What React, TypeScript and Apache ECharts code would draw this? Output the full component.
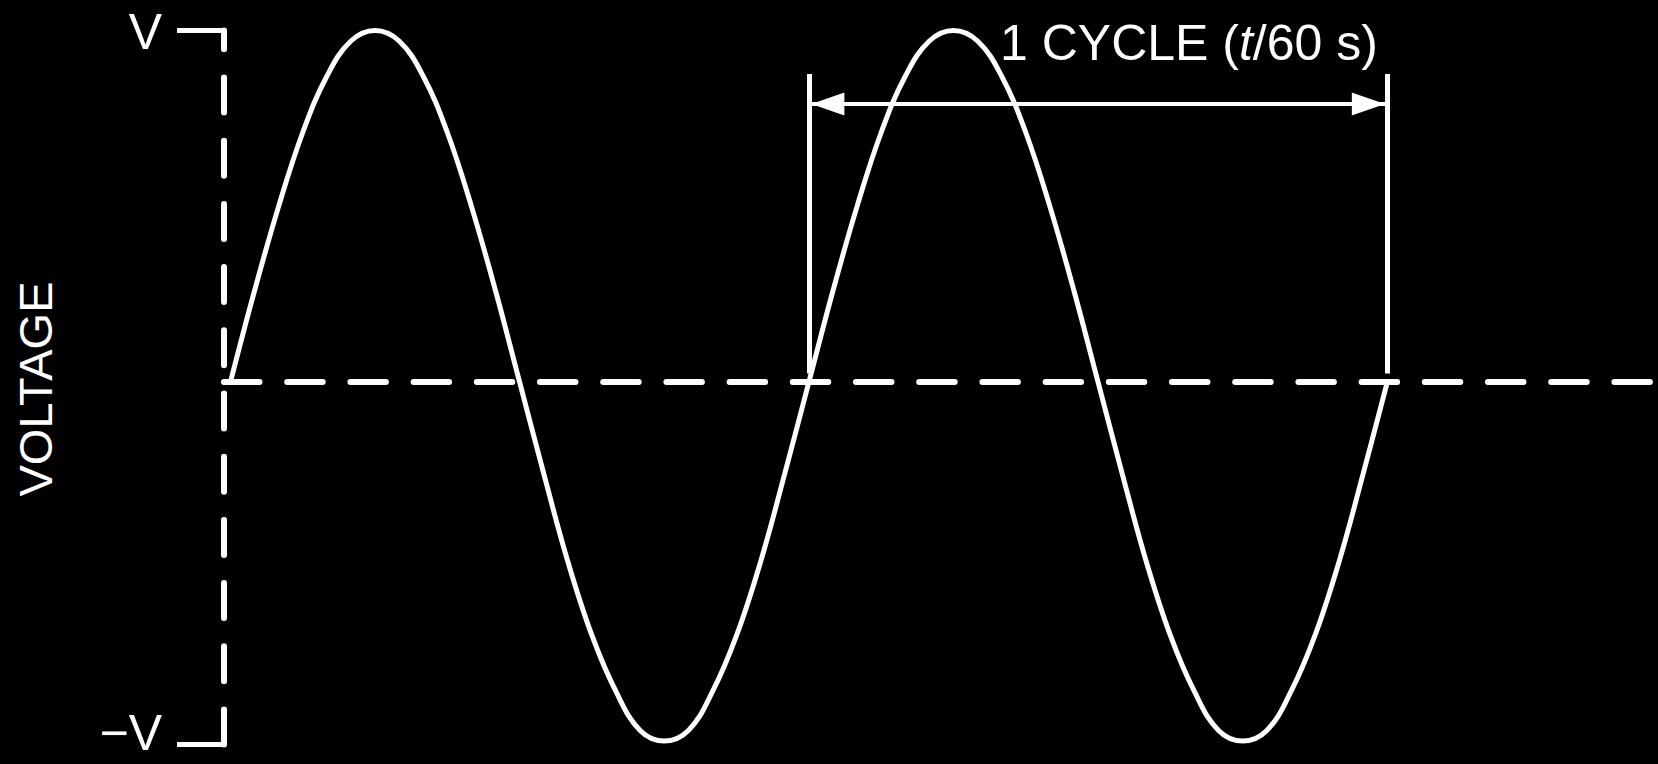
import React, { useEffect, useRef } from 'react';
import * as echarts from 'echarts';

// Phase (degrees) along the time axis, and the voltage (V = 1)
const phaseDeg = [
  0, 15, 30, 45, 60, 75, 90, 105, 120, 135, 150, 165, 180, 195, 210, 225, 240, 255, 270, 285, 300, 315, 330, 345, 360,
  375, 390, 405, 420, 435, 450, 465, 480, 495, 510, 525, 540, 555, 570, 585, 600, 615, 630, 645, 660, 675, 690, 705, 720,
];
const voltage = [
  0, 0.26, 0.5, 0.71, 0.87, 0.97, 1.0, 0.97, 0.87, 0.71, 0.5, 0.26, 0, -0.26, -0.51, -0.72, -0.88, -0.99, -1.02, -0.99, -0.88, -0.72, -0.51, -0.26, 0,
  0.26, 0.5, 0.71, 0.87, 0.97, 1.0, 0.97, 0.87, 0.71, 0.5, 0.26, 0, -0.26, -0.51, -0.72, -0.88, -0.99, -1.02, -0.99, -0.88, -0.72, -0.51, -0.26, 0,
];

// Axis extents and tick labels
const xMin = -4;
const xMax = 883.5;
const yMin = -1.03;
const yMax = 1;
const yTickValues = [-1.03, 1];
const yTickLabels = ['−V', 'V'];

// Cycle annotation (data units)
const cycleBounds = [360, 720];
const cycleLineFrom = 0.025;
const cycleLineTo = 0.876;
const arrowLevel = 0.791;

const axisTitle = 'VOLTAGE';
const cycleTitle = '1 CYCLE ({i|t}/60 s)';

const FONT = '"Liberation Sans", Arial, Helvetica, sans-serif';
const WHITE = '#ffffff';

export default function App() {
  const ref = useRef<HTMLDivElement>(null);

  useEffect(() => {
    document.body.style.margin = '0';
    document.body.style.background = '#000';
    const chart = echarts.init(ref.current!, null, { renderer: 'svg' });

    const option: any = {
      animation: false,
      backgroundColor: '#000000',
      grid: { left: 224, right: 8, top: 30.5, bottom: 19.5, containLabel: false },
      xAxis: {
        type: 'value',
        min: xMin,
        max: xMax,
        axisLine: {
          show: true,
          onZero: true,
          lineStyle: { color: WHITE, width: 6, type: [35.5, 27.7] },
        },
        axisTick: { show: false },
        axisLabel: { show: false },
        splitLine: { show: false },
      },
      yAxis: {
        type: 'value',
        min: yMin,
        max: yMax,
        axisLine: {
          show: true,
          onZero: false,
          lineStyle: { color: WHITE, width: 6, type: [35, 28.2] },
        },
        axisTick: {
          show: true,
          inside: false,
          length: 47,
          customValues: yTickValues,
          lineStyle: { color: WHITE, width: 5 },
        },
        axisLabel: {
          show: true,
          customValues: yTickValues,
          margin: 62,
          formatter: (v: number) => {
            const i = yTickValues.indexOf(v);
            const label = i >= 0 ? yTickLabels[i] : '';
            return v > 0 ? '{t|' + label + '}' : '{b|' + label + '}';
          },
          rich: {
            t: { color: WHITE, fontSize: 50, fontFamily: FONT, padding: [3, 0, 0, 0] },
            b: { color: WHITE, fontSize: 50, fontFamily: FONT, padding: [0, 0, 24, 0] },
          },
        },
        splitLine: { show: false },
      },
      series: [
        {
          type: 'line',
          data: phaseDeg.map((x, i) => [x, voltage[i]]),
          showSymbol: false,
          smooth: 0.4,
          silent: true,
          lineStyle: { color: WHITE, width: 5 },
          z: 3,
          markLine: {
            silent: true,
            animation: false,
            symbol: ['none', 'none'],
            label: { show: false },
            lineStyle: { color: WHITE, width: 5, type: 'solid' },
            data: [
              ...cycleBounds.map((x) => [
                { coord: [x, cycleLineFrom] },
                { coord: [x, cycleLineTo] },
              ]),
              [
                { coord: [cycleBounds[0], arrowLevel], lineStyle: { width: 4 } },
                { coord: [cycleBounds[1], arrowLevel] },
              ],
            ],
          },
        },
        {
          type: 'scatter',
          silent: true,
          symbol: 'triangle',
          symbolSize: [23, 33],
          itemStyle: { color: WHITE, opacity: 1 },
          z: 4,
          data: [
            { value: [cycleBounds[0], arrowLevel], symbolRotate: 90, symbolOffset: [19, 0] },
            { value: [cycleBounds[1], arrowLevel], symbolRotate: -90, symbolOffset: [-19, 0] },
          ],
        },
      ],
      graphic: [
        {
          type: 'text',
          x: 35,
          y: 389,
          rotation: Math.PI / 2,
          silent: true,
          style: {
            text: axisTitle,
            fill: WHITE,
            fontSize: 47,
            fontFamily: FONT,
            align: 'center',
            verticalAlign: 'middle',
          },
        },
        {
          type: 'text',
          x: 1000,
          y: 43,
          silent: true,
          style: {
            text: cycleTitle,
            fill: WHITE,
            fontSize: 50,
            fontFamily: FONT,
            align: 'left',
            verticalAlign: 'middle',
            rich: {
              i: { fill: WHITE, fontSize: 50, fontFamily: FONT, fontStyle: 'italic' },
            },
          },
        },
      ],
    };

    chart.setOption(option);
    return () => chart.dispose();
  }, []);

  return (
    <div
      ref={ref}
      style={{ position: 'fixed', left: 0, top: 0, width: 1658, height: 764, background: '#000' }}
    />
  );
}
